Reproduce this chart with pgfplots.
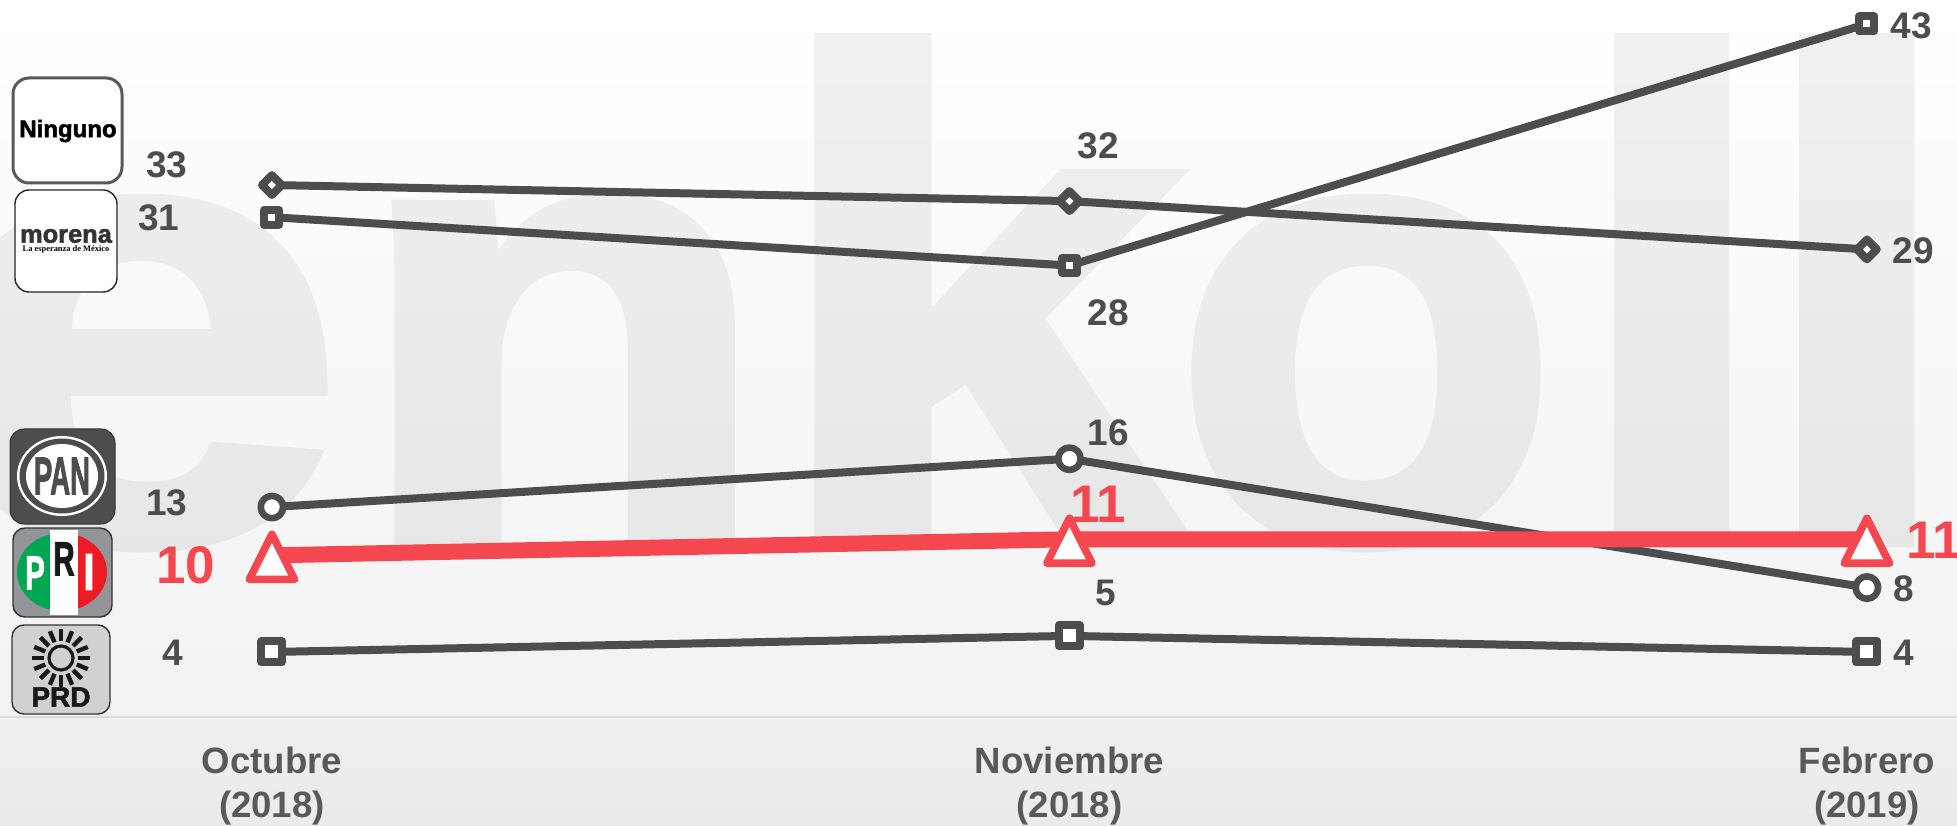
\documentclass[border=0pt]{standalone}
\usepackage{fontspec}
\setmainfont{Liberation Sans}
\newfontfamily\heavy[BoldFeatures={FakeBold=2}]{Liberation Sans}
\newfontfamily\serifsmall{Liberation Serif}
\usepackage{pgfplots}
\pgfplotsset{compat=1.18}

\definecolor{dark}{HTML}{4D4D4D}
\definecolor{redline}{HTML}{F4474F}
\definecolor{ticktext}{HTML}{595959}
\definecolor{prigreen}{HTML}{00A651}
\definecolor{prired}{HTML}{ED1C24}
\definecolor{prigray}{HTML}{939598}

% triangle centred on its value, as in the reference
\pgfdeclareplotmark{tri}{%
  \pgfpathmoveto{\pgfpoint{0pt}{10.5pt}}
  \pgfpathlineto{\pgfpoint{11.3pt}{-12pt}}
  \pgfpathlineto{\pgfpoint{-11.3pt}{-12pt}}
  \pgfpathclose
  \pgfusepathqfillstroke}

\tikzset{
  val/.style={font=\fontsize{18.5}{18.5}\selectfont\bfseries, text=dark, inner sep=0pt},
  valred/.style={font=\fontsize{26.5}{26.5}\selectfont\bfseries, text=redline, inner sep=0pt},
  px/.style={x=0.5pt, y=-0.5pt, shift={(0pt,412.5pt)}},
  big/.style={anchor=base, inner sep=0pt, font=\fontsize{345}{345}\selectfont\heavy\bfseries},
  low/.style={anchor=base, inner sep=0pt, font=\fontsize{316}{316}\selectfont\heavy\bfseries},
}

\begin{document}
\begin{tikzpicture}
  \useasboundingbox (0pt,0pt) rectangle (978.5pt,412.5pt);

  % background and watermark
  \begin{scope}[px]
    \shade[top color=white, bottom color=black!5] (0,0) rectangle (1957,717);
    \shade[top color=black!6, bottom color=black!8] (0,717) rectangle (1957,825);
    \begin{scope}[transparency group, opacity=0.055]
      \node[low] at (135,540) {\scalebox{1.2}[1]{e}};
      \node[low] at (562,540) {\scalebox{1.08}[1]{n}};
      \node[big] at (977,540) {\scalebox{1.08}[1]{k}};
      \node[low] at (1366,540) {\scalebox{1.0}[1]{o}};
      \node[big] at (1672,540) {\scalebox{1.06}[1]{l}};
      \node[big] at (1857,540) {\scalebox{1.06}[1]{l}};
    \end{scope}
    \draw[black!15, line width=1pt] (0,717) -- (1957,717);
  \end{scope}

  \begin{axis}[
    at={(0pt,0pt)}, anchor=south west,
    scale only axis,
    width=978.5pt, height=412.5pt,
    xmin=-0.341, xmax=2.113,
    ymin=-6.745, ymax=44.49,
    axis line style={draw=none},
    tick style={draw=none},
    ytick=\empty,
    xtick={0,1,2},
    xticklabels={{Octubre\\(2018)},{Noviembre\\(2018)},{Febrero\\(2019)}},
    xticklabel style={align=center, text=ticktext, inner sep=0pt, yshift=39pt,
                      font=\fontsize{18.3}{22}\selectfont\bfseries},
    clip=false,
    ]
    \tikzstyle{grayline}=[color=dark, line width=4pt, line join=round]

    % Ninguno
    \addplot[grayline, mark=square*, mark size=3.5pt,
             mark options={rotate=45, draw=dark, fill=white, line join=round}]
      coordinates {(0,33) (1,32) (2,29)};
    % morena
    \addplot[grayline, mark=square*, mark size=3.75pt,
             mark options={draw=dark, fill=white, line join=round}]
      coordinates {(0,31) (1,28) (2,43)};
    % PAN
    \addplot[grayline, mark=*, mark size=5.6pt,
             mark options={draw=dark, fill=white, line width=3.3pt}]
      coordinates {(0,13) (1,16) (2,8)};
    % PRD
    \addplot[grayline, mark=square*, mark size=5.25pt,
             mark options={draw=dark, fill=white, line join=round}]
      coordinates {(0,4) (1,5) (2,4)};
    % PRI
    \addplot[color=redline, line width=8pt, mark=tri,
             mark options={draw=redline, fill=white, line width=3.8pt, line join=round}]
      coordinates {(0,10) (1,11) (2,11)};
  \end{axis}

  % value labels and party logos, in reference pixels
  \begin{scope}[px]
    \node[val] at (167,165) {33};
    \node[val] at (159,218) {31};
    \node[val] at (167,503) {13};
    \node[val] at (173,653) {4};
    \node[val] at (1098,146) {32};
    \node[val] at (1108,313) {28};
    \node[val] at (1108,433) {16};
    \node[val] at (1106,593) {5};
    \node[val] at (1911,26) {43};
    \node[val] at (1913,251) {29};
    \node[val] at (1904,589) {8};
    \node[val] at (1904,653) {4};
    \node[valred] at (186,565) {10};
    \node[valred] at (1098,504) {11};
    \node[valred] at (1934,540) {11};

    % Ninguno
    \draw[draw=black!65, fill=white, line width=1.5pt, rounded corners=8pt] (13,78) rectangle (122,183);
    \node[inner sep=0pt, font=\fontsize{12}{12}\selectfont\heavy\bfseries] at (68,131) {Ninguno};

    % morena
    \draw[draw=black!85, fill=white, line width=0.7pt, rounded corners=7pt] (15,190) rectangle (117,292);
    \node[inner sep=0pt, text=black!80, font=\fontsize{12.7}{12.7}\selectfont\heavy\bfseries] at (66,236) {morena};
    \node[inner sep=0pt, font=\fontsize{4.2}{4.2}\selectfont\serifsmall\bfseries] at (66,249) {La esperanza de México};

    % PAN
    \draw[draw=black!80, fill=dark, line width=0.5pt, rounded corners=7pt] (10,429) rectangle (115,524);
    \fill[white] (62,476) ellipse [x radius=45, y radius=40];
    \fill[dark] (62,476) ellipse [x radius=42.5, y radius=37.5];
    \fill[white] (62,476) ellipse [x radius=36, y radius=32];
    \node[inner sep=0pt, text=dark, font=\fontsize{26.5}{26.5}\selectfont\heavy\bfseries] at (62,476) {\scalebox{0.52}[1]{PAN}};

    % PRI
    \draw[draw=black!80, fill=prigray, line width=0.7pt, rounded corners=6pt] (13,528) rectangle (112,617);
    \begin{scope}
      \clip (62,572) ellipse [x radius=45, y radius=39];
      \fill[prigreen] (13,528) rectangle (50,617);
      \fill[prired] (78,528) rectangle (112,617);
    \end{scope}
    \fill[white] (50,530) rectangle (78,615);
    \node[inner sep=0pt, text=white, font=\fontsize{24}{24}\selectfont\heavy\bfseries] at (35,573) {\scalebox{0.62}[1]{P}};
    \node[inner sep=0pt, text=black!90, font=\fontsize{24}{24}\selectfont\heavy\bfseries] at (64,559) {\scalebox{0.62}[1]{R}};
    \node[inner sep=0pt, text=white, font=\fontsize{26}{26}\selectfont\heavy\bfseries] at (89,572) {\scalebox{0.8}[1]{I}};

    % PRD
    \draw[draw=black!80, fill=black!18, line width=0.7pt, rounded corners=6pt] (12,625) rectangle (110,714);
    \draw[black!90, line width=1.6pt] (61,658) circle [radius=12];
    \foreach \a in {0,22.5,...,337.5}
      \draw[black!90, line width=2.2pt] (61,658) ++(\a:17) -- ++(\a:12);
    \node[inner sep=0pt, text=black!90, font=\fontsize{14}{14}\selectfont\heavy\bfseries] at (61,697) {PRD};
  \end{scope}
\end{tikzpicture}
\end{document}
